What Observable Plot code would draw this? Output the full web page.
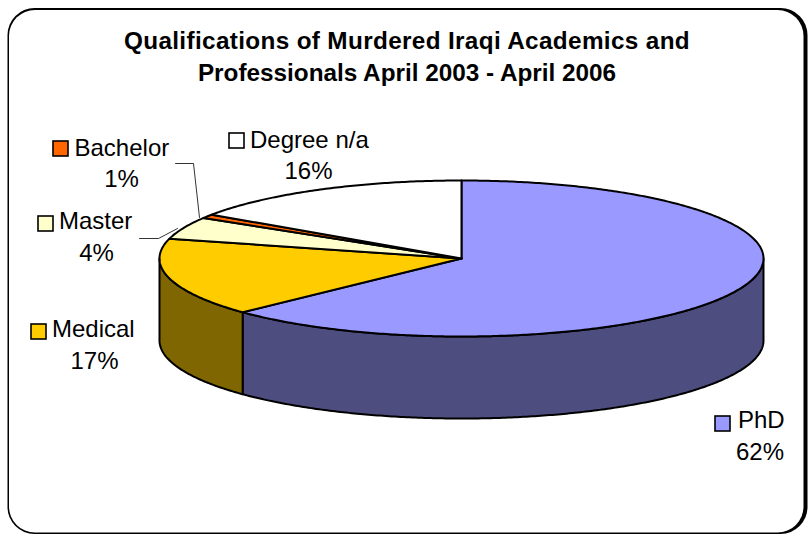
<!DOCTYPE html>
<html>
<head>
<meta charset="utf-8">
<style>html,body{margin:0;padding:0;background:#fff;overflow:hidden}svg{display:block}
.title-wide text{letter-spacing:.35px}</style>
<script src="https://cdn.jsdelivr.net/npm/d3@7"></script>
<script src="https://cdn.jsdelivr.net/npm/@observablehq/plot@0.6"></script>
</head>
<body>
<div id="chart"></div>
<script>
// Data
const categories = ["PhD", "Medical", "Master", "Bachelor", "Degree n/a"];
const sliceShares = [62.9, 16.2, 4.6, 0.8, 15.5];   // measured slice sizes
const percentLabels = ["62%", "17%", "4%", "1%", "16%"];
const titleLines = ["Qualifications of Murdered Iraqi Academics and", "Professionals April 2003 - April 2006"];
const topColors = ["#9999ff", "#ffcc00", "#ffffcc", "#ff6600", "#ffffff"];
const sideColors = ["#4d4d80", "#806600", "#80805f", "#803300", "#808080"];

// Layout (separate from the data)
const W = 808, H = 534;
const pie = {cx: 461, cy: 258, rx: 302, ry: 78, depth: 82};
const labelLayout = [
  {nameX: 737.5, nameY: 427.5, pctX: 759.5, pctY: 459.5, keyX: 715, keyY: 416},
  {nameX: 51.5,  nameY: 336.5, pctX: 94,  pctY: 368, keyX: 31,  keyY: 324},
  {nameX: 58.5,  nameY: 228.5, pctX: 96,  pctY: 260.5, keyX: 38,  keyY: 216},
  {nameX: 74,    nameY: 155, pctX: 121, pctY: 186.5, keyX: 53,  keyY: 141},
  {nameX: 249.5, nameY: 147, pctX: 308, pctY: 178, keyX: 229, keyY: 133}
];
const keySize = 15;
const leaders = [
  {id: "Master", pts: [[139, 238], [158, 238], [177, 228]]},
  {id: "Bachelor", pts: [[175, 163], [193, 163], [199, 217]]}
];

// Slice angles: clockwise from the top of the ellipse
const total = d3.sum(sliceShares);
let acc = 0;
const slices = categories.map((name, i) => {
  const a0 = acc / total * 2 * Math.PI;
  acc += sliceShares[i];
  return {name, i, a0, a1: acc / total * 2 * Math.PI};
});
const onEllipse = (a, dz = 0) => ({
  x: pie.cx + pie.rx * Math.sin(a),
  y: pie.cy - pie.ry * Math.cos(a) + dz
});
const arcPts = (a0, a1, dz = 0) => {
  const n = Math.max(2, Math.ceil((a1 - a0) / 0.01));
  return d3.range(n + 1).map(k => onEllipse(a0 + (a1 - a0) * k / n, dz));
};

// Top faces
const topFace = s => {
  const c = {x: pie.cx, y: pie.cy};
  return [c, ...arcPts(s.a0, s.a1), c];
};
// Front walls: visible between the right and left extremes
const wall = s => {
  const a0 = Math.max(s.a0, Math.PI / 2), a1 = Math.min(s.a1, 3 * Math.PI / 2);
  if (a1 <= a0) return null;
  const top = arcPts(a0, a1), bottom = arcPts(a0, a1, pie.depth).reverse();
  return [...top, ...bottom, top[0]];
};

const marks = [
  // frame: dark outer shape, white inner shape shifted to leave the heavier right and bottom edges
  Plot.rect([0], {x1: () => 7.5, x2: () => 807.5, y1: () => 8, y2: () => 534, rx: 27, fill: "#000"}),
  Plot.rect([0], {x1: () => 9, x2: () => 803.5, y1: () => 10, y2: () => 532.5, rx: 26, fill: "#fff"})
];
for (const s of slices) {
  const w = wall(s);
  if (w) marks.push(Plot.line(w, {x: "x", y: "y", fill: sideColors[s.i], stroke: "#000", strokeWidth: 2, strokeLinejoin: "round"}));
}
for (const s of slices) {
  marks.push(Plot.line(topFace(s), {x: "x", y: "y", fill: topColors[s.i], stroke: "#000", strokeWidth: 2, strokeLinejoin: "round"}));
}
for (const l of leaders) {
  marks.push(Plot.line(l.pts, {x: d => d[0], y: d => d[1], stroke: "#000", strokeWidth: 0.8}));
}
const labelRows = categories.map((name, i) => ({name, pct: percentLabels[i], color: topColors[i], ...labelLayout[i]}));
const titleFont = {x: () => 406.5, text: d => d, textAnchor: "middle", lineAnchor: "bottom", fontSize: 24.3, fontWeight: "bold", fill: "#000", fontFamily: "Liberation Sans"};
marks.push(
  Plot.rect(labelRows, {x1: "keyX", x2: d => d.keyX + keySize, y1: "keyY", y2: d => d.keyY + keySize, fill: "color", stroke: "#000", strokeWidth: 1.6}),
  Plot.text(labelRows, {x: "nameX", y: "nameY", text: "name", textAnchor: "start", lineAnchor: "bottom", fontSize: 24, fill: "#000", fontFamily: "Liberation Sans"}),
  Plot.text(labelRows, {x: "pctX", y: "pctY", text: "pct", textAnchor: "middle", lineAnchor: "bottom", fontSize: 24, fill: "#000", fontFamily: "Liberation Sans"}),
  Plot.text(titleLines.slice(0, 1), {...titleFont, y: () => 48, className: "title-wide"}),
  Plot.text(titleLines.slice(1), {...titleFont, y: () => 80})
);

const chart = Plot.plot({
  width: W, height: H,
  margin: 0,
  x: {domain: [0, W], range: [0, W], axis: null},
  y: {domain: [0, H], range: [0, H], axis: null},
  style: {background: "#fff"},
  marks
});
document.getElementById("chart").append(chart);
</script>
</body>
</html>
